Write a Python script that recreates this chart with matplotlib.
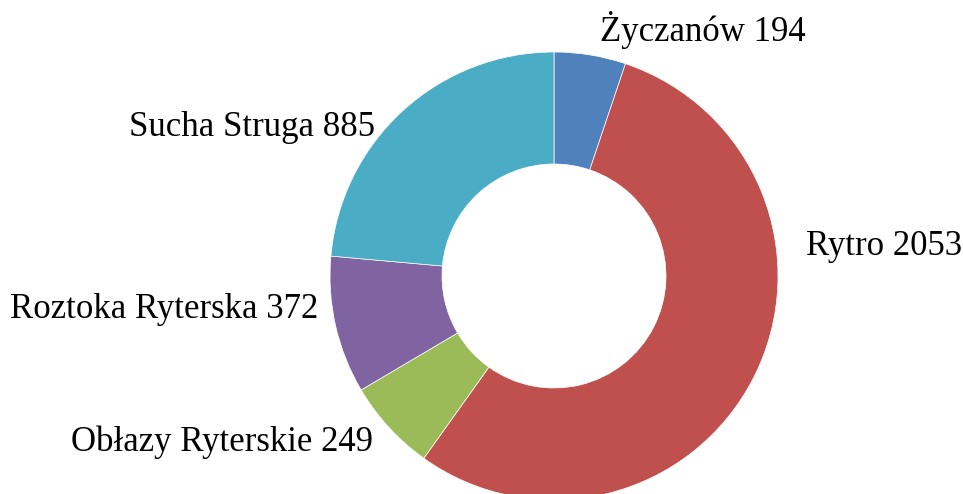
import matplotlib
matplotlib.use("Agg")
import matplotlib.pyplot as plt

# dane: liczba mieszkancow wg miejscowosci
nazwy = ["Życzanów", "Rytro", "Obłazy Ryterskie", "Roztoka Ryterska", "Sucha Struga"]
wartosci = [194, 2053, 249, 372, 885]
kolory = ["#4F81BD", "#C0504D", "#9BBB59", "#8064A2", "#4BACC6"]

# polozenie etykiet (jednostki osi, promien = 1) i wyrownanie
etykiety_xy = [(0.205, 1.10), (1.123, 0.13), (-0.81, -0.74), (-1.053, -0.15), (-0.80, 0.665)]
etykiety_ha = ["left", "left", "right", "right", "right"]

plt.rcParams["font.family"] = ["Liberation Serif", "DejaVu Serif"]

fig = plt.figure(figsize=(9.63, 4.94), dpi=100)
ax = fig.add_axes([0, 0, 1, 1])

ax.pie(wartosci, colors=kolory, startangle=90, counterclock=False,
       radius=1.0, center=(0, 0),
       wedgeprops=dict(width=0.5, edgecolor="white", linewidth=0.5))

for n, w, (x, y), ha in zip(nazwy, wartosci, etykiety_xy, etykiety_ha):
    ax.text(x, y, f"{n} {w}", ha=ha, va="center", fontsize=25, color="black")

# srodek kola w (554, 276) px, promien 224 px
ax.set_xlim(-554 / 224, (963 - 554) / 224)
ax.set_ylim(-(494 - 276) / 224, 276 / 224)
ax.set_aspect("auto")
ax.axis("off")

fig.savefig("out.png", dpi=100)
